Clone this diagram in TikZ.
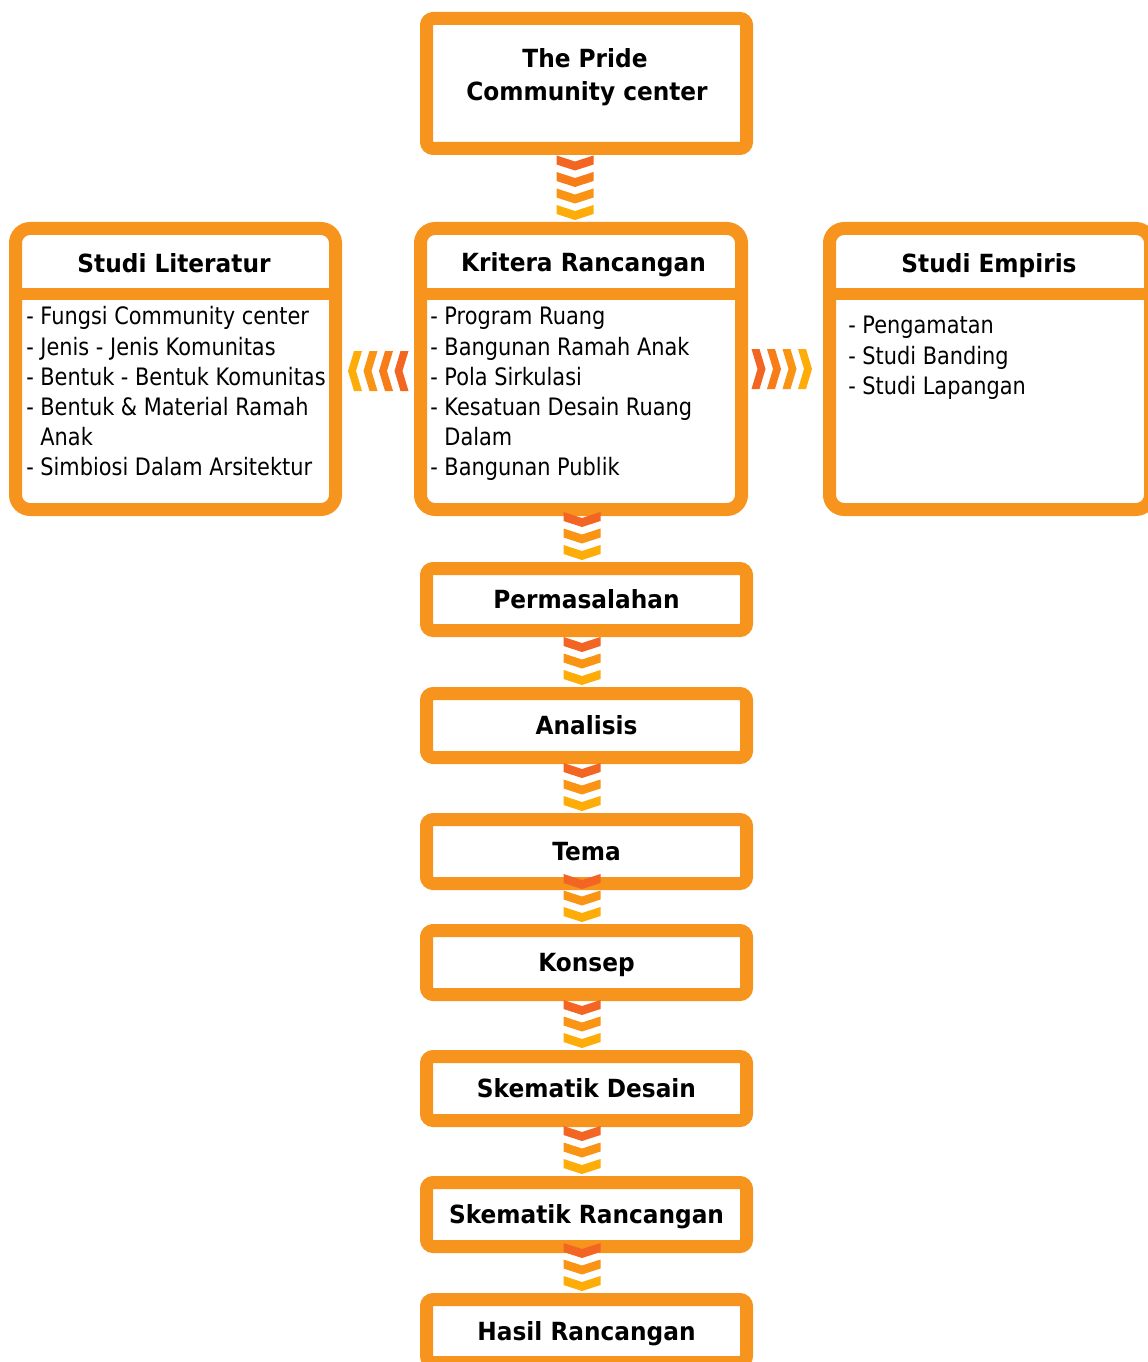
\documentclass[tikz,border=0pt]{standalone}
\usepackage{fontspec}
\setmainfont{DejaVu Sans}[FakeStretch=0.87]
\newfontfamily\headfont{DejaVu Sans}[FakeStretch=0.93]
\usetikzlibrary{calc}
\definecolor{boxorange}{RGB}{247,148,30}
\definecolor{chA}{RGB}{242,101,34}
\definecolor{chB}{RGB}{247,125,25}
\definecolor{chC}{RGB}{250,148,20}
\definecolor{chD}{RGB}{254,172,8}
\tikzset{
  obox/.style={draw=boxorange, fill=white, line width=9.75pt, inner sep=0pt, outer sep=0pt, rounded corners=5pt},
  bigbox/.style={obox, rounded corners=11pt},
  divline/.style={draw=boxorange, line width=9pt},
  titletxt/.style={font=\headfont\bfseries\fontsize{18.75}{22.5}\selectfont, inner sep=0pt, anchor=base},
  boxtitle/.style={font=\headfont\bfseries\fontsize{18.75}{22.5}\selectfont, text height=13.7pt, text depth=0pt},
  bodytxt/.style={font=\fontsize{18}{22.5}\selectfont, inner sep=0pt, anchor=base west},
}
% #1 style, #2 name, #3 x1, #4 y1, #5 x2, #6 y2 (outer bounds, px), #7 text
\newcommand{\mkobox}[7]{%
  \node[#1, minimum width={(#5-#3-13)*0.75pt}, minimum height={(#6-#4-13)*0.75pt}] (#2) at ({(#3+#5)/2},{(#4+#6)/2}) {#7};}
% downward chevrons above a target node: #1 target, #2 dx, #3 list index/colour
\newcommand{\vchevs}[3]{%
  \foreach \ii/\cl in {#3} {%
    \fill[\cl, shift={($(#1.north)+(#2,{-8.5-16.5*\ii})$)}] (-18.5,-15) -- (0,-9) -- (18.5,-15) -- (18.5,-6) -- (0,0) -- (-18.5,-6) -- cycle;}}
\begin{document}
\begin{tikzpicture}[x=0.75pt, y=-0.75pt]
\useasboundingbox (0,0) rectangle (1148,1362);
\clip (0,0) rectangle (1148,1362);

% boxes
\mkobox{obox}{top}{420}{12}{753}{155}{}
\mkobox{bigbox}{krit}{414}{222}{748}{516}{}
\mkobox{bigbox}{lit}{9}{222}{342}{516}{}
\mkobox{bigbox}{emp}{823}{222}{1157}{516}{}
\mkobox{obox,boxtitle}{perm}{420}{562}{753}{637}{Permasalahan}
\mkobox{obox,boxtitle}{anal}{420}{687}{753}{764}{Analisis}
\mkobox{obox,boxtitle}{tema}{420}{813}{753}{890}{Tema}
\mkobox{obox,boxtitle}{kons}{420}{924}{753}{1001}{Konsep}
\mkobox{obox,boxtitle}{skd}{420}{1050}{753}{1127}{Skematik Desain}
\mkobox{obox,boxtitle}{skr}{420}{1176}{753}{1253}{Skematik Rancangan}
\mkobox{obox,boxtitle}{hasil}{420}{1293}{753}{1369}{Hasil Rancangan}

% header dividers
\coordinate (dv) at (0,294);
\draw[divline] (lit.west |- dv) -- (lit.east |- dv);
\draw[divline] (krit.west |- dv) -- (krit.east |- dv);
\draw[divline] (emp.west |- dv) -- (emp.east |- dv);

% titles
\node[titletxt] (t1) at (585,68) {The Pride};
\node[titletxt] (t2) at (587,101) {Community center};
\node[titletxt] (hlit) at (174,273) {Studi Literatur};
\node[titletxt] (hkrit) at (583.5,272) {Kritera Rancangan};
\node[titletxt] (hemp) at (989,273) {Studi Empiris};

% body texts
\node[bodytxt] (l1) at (26,325) {- Fungsi Community center};
\node[bodytxt] (l2) at (26,355) {- Jenis - Jenis Komunitas};
\node[bodytxt] (l3) at (26,385) {- Bentuk - Bentuk Komunitas};
\node[bodytxt] (l4) at (26,415) {- Bentuk \& Material Ramah};
\node[bodytxt] (l5) at (26,445) {\phantom{- }Anak};
\node[bodytxt] (l6) at (26,475) {- Simbiosi Dalam Arsitektur};

\node[bodytxt] (k1) at (430,325) {- Program Ruang};
\node[bodytxt] (k2) at (430,355) {- Bangunan Ramah Anak};
\node[bodytxt] (k3) at (430,385) {- Pola Sirkulasi};
\node[bodytxt] (k4) at (430,415) {- Kesatuan Desain Ruang};
\node[bodytxt] (k5) at (430,445) {\phantom{- }Dalam};
\node[bodytxt] (k6) at (430,475) {- Bangunan Publik};

\node[bodytxt] (e1) at (848,334) {- Pengamatan};
\node[bodytxt] (e2) at (848,364) {- Studi Banding};
\node[bodytxt] (e3) at (848,394) {- Studi Lapangan};

% vertical chevron connectors
\vchevs{krit}{-6}{0/chD,1/chC,2/chB,3/chA}
\vchevs{perm}{-4.5}{0/chD,1/chC,2/chA}
\vchevs{anal}{-4.5}{0/chD,1/chC,2/chA}
\vchevs{tema}{-4.5}{0/chD,1/chC,2/chA}
\vchevs{kons}{-4.5}{0/chD,1/chC,2/chA}
\vchevs{skd}{-4.5}{0/chD,1/chC,2/chA}
\vchevs{skr}{-4.5}{0/chD,1/chC,2/chA}
\vchevs{hasil}{-4.5}{0/chD,1/chC,2/chA}

% horizontal chevron connectors
\foreach \ii/\cl in {0/chD,1/chC,2/chB,3/chA} {
  \fill[\cl, shift={($(krit.west)+({-72.5+15.5*\ii},2)$)}] (0,0) -- (6,-20) -- (14,-20) -- (8,0) -- (14,20) -- (6,20) -- cycle;
  \fill[\cl, shift={($(krit.east)+({70.5-15.5*\ii},0)$)}] (0,0) -- (-6,-20) -- (-14,-20) -- (-8,0) -- (-14,20) -- (-6,20) -- cycle;
}
\end{tikzpicture}
\end{document}
